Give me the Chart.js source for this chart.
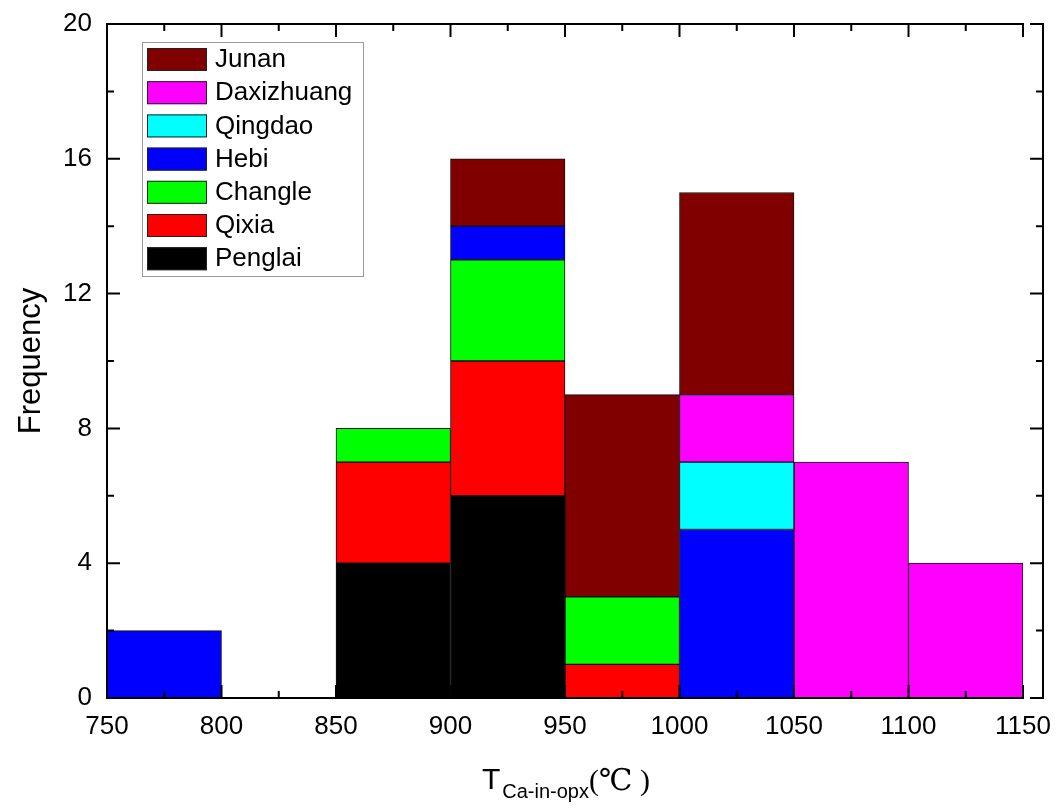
<!DOCTYPE html>
<html>
<head>
<meta charset="utf-8">
<script src="https://cdn.jsdelivr.net/npm/chart.js@4.4.1/dist/chart.umd.min.js"></script>
<style>
  body { margin: 0; background: #fff; }
  #wrap { width: 1058px; height: 808px; }
</style>
</head>
<body>
<div id="wrap"><canvas id="histChart" width="1058" height="808"></canvas></div>
<script>
// bin centres (50 degree bins from 750 to 1150)
const binCenters = [775, 825, 875, 925, 975, 1025, 1075, 1125];
const xTickValues = [750, 800, 850, 900, 950, 1000, 1050, 1100, 1150];
const xMinorTicks = [775, 825, 875, 925, 975, 1025, 1075, 1125];
const yTickValues = [0, 4, 8, 12, 16, 20];
const yMinorTicks = [2, 6, 10, 14, 18];

// counts per locality (stack order bottom -> top)
const penglai    = [null, null, 4, 6, null, null, null, null];
const qixia      = [null, null, 3, 4, 1, null, null, null];
const changle    = [null, null, 1, 3, 2, null, null, null];
const hebi       = [2, null, null, 1, null, 5, null, null];
const qingdao    = [null, null, null, null, null, 2, null, null];
const daxizhuang = [null, null, null, null, null, 2, 7, 4];
const junan      = [null, null, null, 2, 6, 6, null, null];

const seriesNames = ['Penglai', 'Qixia', 'Changle', 'Hebi', 'Qingdao', 'Daxizhuang', 'Junan'];
const seriesData = [penglai, qixia, changle, hebi, qingdao, daxizhuang, junan];
const seriesColors = ['#000000', '#ff0000', '#00ff00', '#0000ff', '#00ffff', '#ff00ff', '#800000'];

const FONT = "'Liberation Sans', Arial, sans-serif";

// Axis frame with inward ticks, right axis sits a bit apart from the plot
const framePlugin = {
    id: 'frame',
    afterDraw(chart) {
        const ctx = chart.ctx;
        const xs = chart.scales.x;
        const ys = chart.scales.y;
        const a = chart.chartArea;
        const rightX = a.right + 20;
        const major = 13, minor = 7;
        ctx.save();
        ctx.strokeStyle = '#000';
        ctx.lineWidth = 2;
        ctx.beginPath();
        // left, bottom, top, right lines
        ctx.moveTo(a.left, a.top); ctx.lineTo(a.left, a.bottom);
        ctx.moveTo(a.left - 1, a.bottom); ctx.lineTo(a.right + 1, a.bottom);
        ctx.moveTo(a.left - 1, a.top); ctx.lineTo(a.right + 1, a.top);
        ctx.moveTo(rightX, a.top - 1); ctx.lineTo(rightX, a.bottom + 1);
        xTickValues.forEach(v => {
            const px = xs.getPixelForValue(v);
            ctx.moveTo(px, a.bottom); ctx.lineTo(px, a.bottom - major);
            ctx.moveTo(px, a.top); ctx.lineTo(px, a.top + major);
        });
        xMinorTicks.forEach(v => {
            const px = xs.getPixelForValue(v);
            ctx.moveTo(px, a.bottom); ctx.lineTo(px, a.bottom - minor);
            ctx.moveTo(px, a.top); ctx.lineTo(px, a.top + minor);
        });
        yTickValues.forEach(v => {
            const py = ys.getPixelForValue(v);
            ctx.moveTo(a.left, py); ctx.lineTo(a.left + major, py);
            ctx.moveTo(rightX, py); ctx.lineTo(rightX - major, py);
        });
        yMinorTicks.forEach(v => {
            const py = ys.getPixelForValue(v);
            ctx.moveTo(a.left, py); ctx.lineTo(a.left + minor, py);
            ctx.moveTo(rightX, py); ctx.lineTo(rightX - minor, py);
        });
        ctx.stroke();

        // legend box (top-left inside the plot, Junan on top)
        const lx = 142, ly = 42, lw = 221, lh = 234;
        ctx.lineWidth = 1;
        ctx.strokeStyle = '#9a9a9a';
        ctx.strokeRect(lx + 0.5, ly + 0.5, lw, lh);
        ctx.font = '26px ' + FONT;
        ctx.textBaseline = 'middle';
        ctx.textAlign = 'left';
        for (let i = 0; i < seriesNames.length; i++) {
            const k = seriesNames.length - 1 - i;
            const rowY = ly + 6 + i * 33.2;
            ctx.fillStyle = seriesColors[k];
            ctx.fillRect(lx + 5, rowY, 60, 23);
            ctx.strokeStyle = '#222';
            ctx.strokeRect(lx + 5.5, rowY + 0.5, 59, 22);
            ctx.fillStyle = '#000';
            ctx.fillText(seriesNames[k], lx + 73, rowY + 12);
        }

        // x axis title: T with subscript and (℃ )
        const cx = (xs.getPixelForValue(750) + xs.getPixelForValue(1150)) / 2;
        const tFont = '30px ' + FONT;
        const subFont = '20px ' + FONT;
        const unitFont = "30px 'Liberation Serif', 'DejaVu Serif', 'Noto Sans CJK SC', serif";
        ctx.textBaseline = 'alphabetic';
        ctx.font = tFont; const wT = ctx.measureText('T').width;
        ctx.font = subFont; const wS = ctx.measureText('Ca-in-opx').width;
        ctx.font = unitFont; const wU = ctx.measureText('(\u2103 )').width;
        let x0 = cx - (wT + wS + wU) / 2;
        ctx.font = tFont; ctx.fillText('T', x0, 789);
        ctx.font = subFont; ctx.fillText('Ca-in-opx', x0 + wT + 2, 798);
        ctx.font = unitFont; ctx.fillText('(\u2103 )', x0 + wT + wS + 2, 790);

        // y axis title
        ctx.translate(31, (a.top + a.bottom) / 2);
        ctx.rotate(-Math.PI / 2);
        ctx.textAlign = 'center';
        ctx.textBaseline = 'middle';
        ctx.font = '31px ' + FONT;
        ctx.fillText('Frequency', 0, 0);
        ctx.restore();
    }
};

const datasets = seriesNames.map((name, i) => ({
    label: name,
    data: seriesData[i],
    backgroundColor: seriesColors[i],
    borderColor: '#111',
    borderWidth: 1,
    borderSkipped: false,
    barPercentage: 1.0,
    categoryPercentage: 1.0
}));

new Chart(document.getElementById('histChart'), {
    type: 'bar',
    data: { labels: binCenters, datasets: datasets },
    options: {
        responsive: false,
        animation: false,
        layout: { padding: { top: 24, right: 35, bottom: 0, left: 0 } },
        plugins: {
            legend: { display: false },
            tooltip: { enabled: false }
        },
        scales: {
            x: {
                type: 'linear',
                stacked: true,
                min: 750,
                max: 1150,
                offset: false,
                grid: { display: false, drawTicks: false },
                border: { display: false },
                afterBuildTicks: s => { s.ticks = xTickValues.map(v => ({ value: v })); },
                afterFit: s => { s.height = 110; s.paddingLeft = 0; s.paddingRight = 0; },
                ticks: {
                    autoSkip: false,
                    maxRotation: 0,
                    padding: 13,
                    color: '#000',
                    font: { family: FONT, size: 26 },
                    callback: v => String(v)
                }
            },
            y: {
                stacked: true,
                min: 0,
                max: 20,
                grid: { display: false, drawTicks: false },
                border: { display: false },
                afterBuildTicks: s => { s.ticks = yTickValues.map(v => ({ value: v })); },
                afterFit: s => { s.width = 107; s.paddingTop = 0; s.paddingBottom = 0; },
                ticks: {
                    padding: 15,
                    color: '#000',
                    font: { family: FONT, size: 26 },
                    callback: v => String(v)
                }
            }
        }
    },
    plugins: [framePlugin]
});
</script>
</body>
</html>
